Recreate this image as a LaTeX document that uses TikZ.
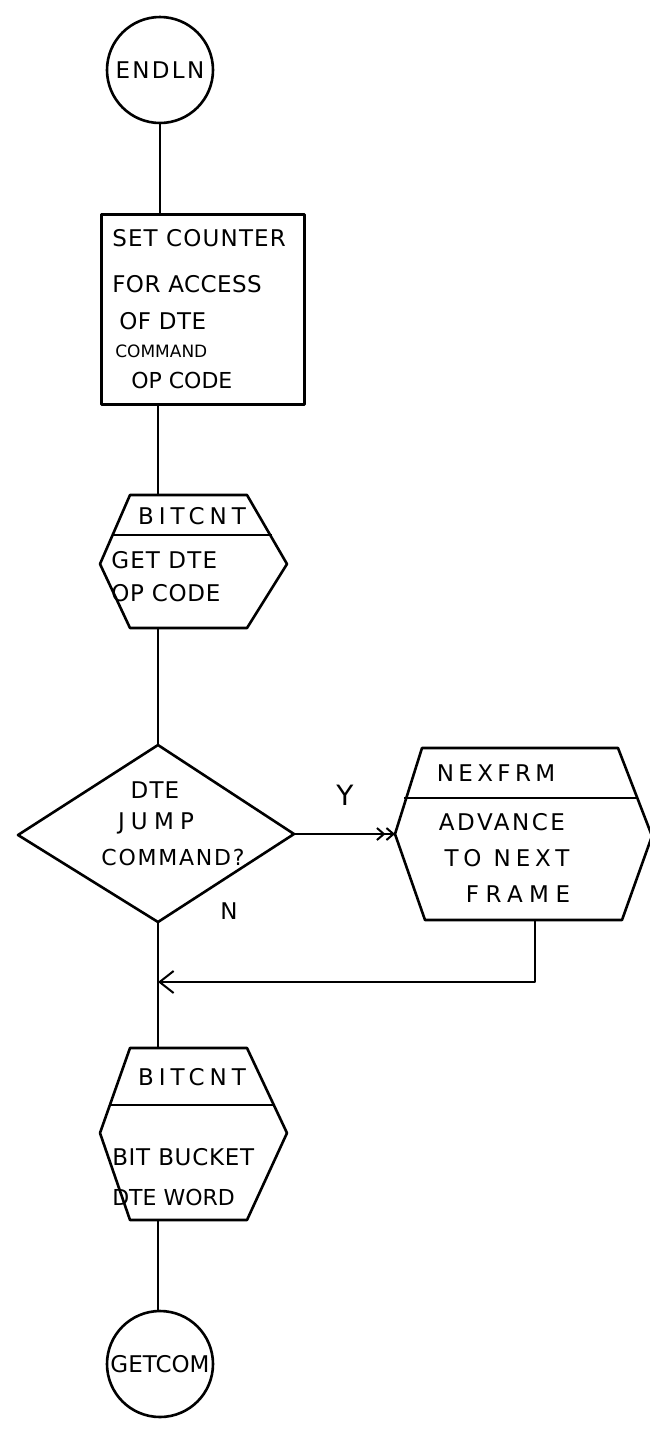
\documentclass[tikz,border=0pt]{standalone}
\usepackage{fontspec}
\setmainfont{DejaVu Sans}
\usetikzlibrary{arrows.meta}
\newcommand{\hwf}[2]{\fontsize{#1}{#1}\selectfont\addfontfeature{LetterSpace=#2}}
\begin{document}
\begin{tikzpicture}[x=1pt,y=-1pt,line width=2.6pt,line join=round,
  txt/.style={inner sep=0pt},
  term/.style={draw,circle,minimum size=106pt,inner sep=0pt},
  yesarrow/.style={-{Straight Barb[length=7pt,width=12pt,line width=2pt]Straight Barb[length=7pt,width=12pt,line width=2pt]}},
  retarrow/.style={-{Straight Barb[length=14pt,width=22pt,line width=2pt]}}]
\useasboundingbox (0,0) rectangle (650,1441);

% terminal ENDLN
\node[term,font=\hwf{23}{10}] (endln) at (160,70) {ENDLN};

% process box
\node[draw,minimum width=203pt,minimum height=190pt,anchor=north west,inner sep=0pt] (setc) at (100,213) {};
\node[txt,anchor=west,font=\hwf{23}{5}] (s1) at (111,238) {SET COUNTER};
\node[txt,anchor=west,font=\hwf{23}{2}] (s2) at (111,284) {FOR ACCESS};
\node[txt,anchor=west,font=\hwf{23}{2}] (s3) at (118,321) {OF DTE};
\node[txt,anchor=west,font=\hwf{17}{0}] (s4) at (114,351) {COMMAND};
\node[txt,anchor=west,font=\hwf{22}{0}] (s5) at (130,380) {OP CODE};

% subroutine BITCNT 1
\coordinate (a1) at (130,495);
\coordinate (a2) at (247,495);
\coordinate (a3) at (287,564);
\coordinate (a4) at (247,628);
\coordinate (a5) at (130,628);
\coordinate (a6) at (100,564);
\draw (a1) -- (a2) -- (a3) -- (a4) -- (a5) -- (a6) -- cycle;
\draw (112,535) -- (272,535);
\coordinate (h1top) at (158,495);
\coordinate (h1bot) at (158,628);
\node[txt,font=\hwf{23}{22}] (b1) at (192,516) {BITCNT};
\node[txt,anchor=west,font=\hwf{23}{5}] (b1a) at (110,560) {GET DTE};
\node[txt,anchor=west,font=\hwf{23}{3}] (b1b) at (110,593) {OP CODE};

% decision
\coordinate (dt) at (158,745);
\coordinate (dr) at (294,834);
\coordinate (db) at (158,922);
\coordinate (dl) at (18,835);
\draw (dt) -- (dr) -- (db) -- (dl) -- cycle;
\node[txt,font=\hwf{23}{5}] (d1) at (155,790) {DTE};
\node[txt,font=\hwf{23}{27}] (d2) at (156,823) {JUMP};
\node[txt,font=\hwf{22}{8}] (d3) at (173,857) {COMMAND?};

% NEXFRM
\coordinate (n1) at (422,748);
\coordinate (n2) at (618,748);
\coordinate (n3) at (652,836);
\coordinate (n4) at (622,920);
\coordinate (n5) at (425,920);
\coordinate (n6) at (395,834);
\draw (n1) -- (n2) -- (n3) -- (n4) -- (n5) -- (n6) -- cycle;
\draw (404,798) -- (636,798);
\node[txt,font=\hwf{23}{19}] (nx) at (496,773) {NEXFRM};
\node[txt,font=\hwf{23}{11}] (nx1) at (502,822) {ADVANCE};
\node[txt,font=\hwf{23}{21}] (nx2) at (507,858) {TO NEXT};
\node[txt,font=\hwf{23}{28}] (nx3) at (518,894) {FRAME};
\coordinate (nbot) at (535,920);
\coordinate (ret) at (535,982);

% labels
\node[txt,font=\hwf{28}{0}] (yl) at (345,795) {Y};
\node[txt,font=\hwf{23}{0}] (nl) at (229,911) {N};

% subroutine BITCNT 2
\coordinate (c1) at (130,1048);
\coordinate (c2) at (247,1048);
\coordinate (c3) at (287,1133);
\coordinate (c4) at (247,1220);
\coordinate (c5) at (130,1220);
\coordinate (c6) at (100,1133);
\draw (c1) -- (c2) -- (c3) -- (c4) -- (c5) -- (c6) -- cycle;
\draw (111,1105) -- (274,1105);
\coordinate (h2top) at (158,1048);
\coordinate (h2bot) at (158,1220);
\node[txt,font=\hwf{23}{22}] (b2) at (192,1077) {BITCNT};
\node[txt,anchor=west,font=\hwf{23}{3}] (b2a) at (111,1157) {BIT BUCKET};
\node[txt,anchor=west,font=\hwf{22}{0}] (b2b) at (111,1197) {DTE WORD};

% terminal GETCOM
\node[term,font=\hwf{23}{0}] (getcom) at (160,1364) {GETCOM};

% connectors
\draw (endln.south) -- (endln.south |- setc.north);
\draw (h1top |- setc.south) -- (h1top);
\draw (h1bot) -- (dt);
\draw[yesarrow] (dr) -- (n6);
\draw (db) -- (h2top);
\draw[retarrow] (nbot) -- (ret) -- (ret -| db);
\draw (h2bot) -- (h2bot |- getcom.north);
\end{tikzpicture}
\end{document}
